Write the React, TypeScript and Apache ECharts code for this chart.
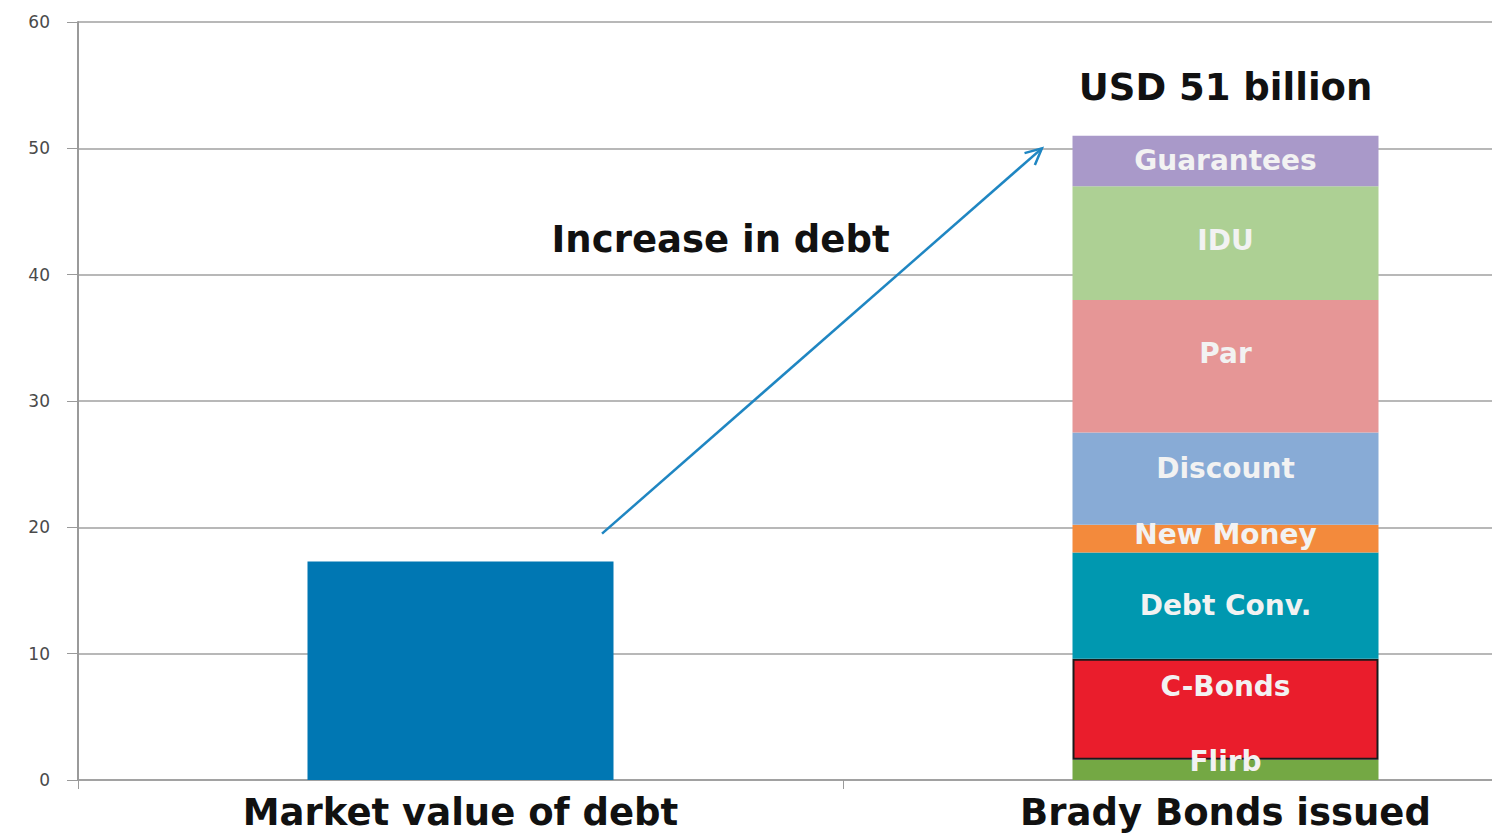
import React, { useEffect, useRef } from "react";
import * as echarts from "echarts";

const categories = ["Market value of debt", "Brady Bonds issued"];
const marketValue = [17.3, "-"];
const segmentNames = ["Flirb", "C-Bonds", "Debt Conv.", "New Money", "Discount", "Par", "IDU", "Guarantees"];
const segmentValues = [1.6, 8.0, 8.4, 2.2, 7.3, 10.5, 9.0, 4.0];
const segmentColors = ["#74a844", "#ea1d2c", "#0098b0", "#f38a3c", "#88abd6", "#e69696", "#add094", "#a999c9"];
const yTicks = [0, 10, 20, 30, 40, 50, 60];
const arrowFrom = { offset: 0.185, value: 19.5 };
const arrowTo = { offset: -0.24, value: 50 };
const annotationText = "Increase in debt";

const FONT = "'DejaVu Sans', Verdana, sans-serif";

export default function App() {
  const ref = useRef<HTMLDivElement>(null);
  useEffect(() => {
    if (!ref.current) return;
    const chart = echarts.init(ref.current, undefined, { renderer: "svg" });
    const total = segmentValues.reduce((a, b) => a + b, 0);
    const series: any[] = [
      {
        name: "Market value",
        type: "bar",
        stack: "total",
        barWidth: "40%",
        data: marketValue,
        itemStyle: { color: "#0077b3" },
      },
    ];
    segmentNames.forEach((name, i) => {
      const isLast = i === segmentNames.length - 1;
      series.push({
        name,
        type: "bar",
        stack: "total",
        barWidth: "40%",
        data: ["-", segmentValues[i]],
        itemStyle:
          name === "C-Bonds"
            ? { color: segmentColors[i], borderColor: "#1a1a1a", borderWidth: 2 }
            : { color: segmentColors[i] },
        label: {
          show: true,
          position: "inside",
          formatter: name,
          color: "#f2f2f2",
          fontFamily: FONT,
          fontWeight: "bold",
          fontSize: 28,
          offset:
            name === "C-Bonds" ? [0, -23] :
            name === "Par" ? [0, -13] :
            name === "Flirb" ? [0, -8] :
            name === "Discount" ? [0, -10] :
            name === "New Money" ? [0, -4] :
            name === "IDU" ? [0, -3] : [0, 0],
        },
      });
      if (isLast) {
        series.push({
          name: "total-label",
          type: "bar",
          stack: "total",
          barWidth: "40%",
          data: ["-", 0],
          itemStyle: { color: "transparent" },
          label: {
            show: true,
            position: "top",
            distance: 30,
            formatter: () => `USD ${Math.round(total)} billion`,
            color: "#111",
            fontFamily: FONT,
            fontWeight: "bold",
            fontSize: 37,
          },
        });
      }
    });

    chart.setOption({
      animation: false,
      backgroundColor: "#ffffff",
      grid: { left: 78, top: 22, bottom: 55, right: 0, containLabel: false },
      xAxis: {
        type: "category",
        data: categories,
        axisLine: { lineStyle: { color: "#9a9a9a", width: 1.5 } },
        axisTick: { show: true, length: 9, lineStyle: { color: "#9a9a9a" } },
        axisLabel: {
          color: "#111",
          fontFamily: FONT,
          fontWeight: "bold",
          fontSize: 37,
          margin: 14,
        },
      },
      yAxis: {
        type: "value",
        min: yTicks[0],
        max: yTicks[yTicks.length - 1],
        interval: 10,
        axisLine: { show: true, lineStyle: { color: "#9a9a9a", width: 2 } },
        axisTick: { show: true, length: 11, lineStyle: { color: "#9a9a9a" } },
        splitLine: { lineStyle: { color: "#a0a0a0", width: 1.5 } },
        axisLabel: { color: "#4a4a4a", fontFamily: FONT, fontSize: 17, margin: 28 },
      },
      series,
    });

    const c0 = chart.convertToPixel({ xAxisIndex: 0, yAxisIndex: 0 }, [0, 0]) as number[];
    const c1 = chart.convertToPixel({ xAxisIndex: 0, yAxisIndex: 0 }, [1, 0]) as number[];
    const bw = c1[0] - c0[0];
    const y = (v: number) => (chart.convertToPixel({ yAxisIndex: 0 }, v) as number);
    const x1 = c0[0] + arrowFrom.offset * bw;
    const y1 = y(arrowFrom.value);
    const x2 = c1[0] + arrowTo.offset * bw;
    const y2 = y(arrowTo.value);
    const ang = Math.atan2(y2 - y1, x2 - x1);
    const hl = 18;
    const spread = 0.45;
    const h1 = [x2 - hl * Math.cos(ang - spread), y2 - hl * Math.sin(ang - spread)];
    const h2 = [x2 - hl * Math.cos(ang + spread), y2 - hl * Math.sin(ang + spread)];
    chart.setOption({
      graphic: [
        {
          type: "line",
          shape: { x1, y1, x2, y2 },
          style: { stroke: "#1f86c2", lineWidth: 2.5 },
          z: 100,
        },
        {
          type: "polyline",
          shape: { points: [h1, [x2, y2], h2] },
          style: { stroke: "#1f86c2", lineWidth: 2.5, fill: null },
          z: 100,
        },
        {
          type: "text",
          x: c0[0] + 0.34 * bw,
          y: y(42.8),
          style: {
            text: annotationText,
            fill: "#111",
            font: `bold 37px ${FONT}`,
            align: "center",
            verticalAlign: "middle",
          },
          z: 100,
        },
      ],
    });

    return () => chart.dispose();
  }, []);
  return (
    <div style={{ position: "fixed", left: 0, top: 0, width: "1492px", height: "835px", overflow: "hidden", background: "#fff" }}>
      <div ref={ref} style={{ width: "1608px", height: "835px" }} />
    </div>
  );
}
